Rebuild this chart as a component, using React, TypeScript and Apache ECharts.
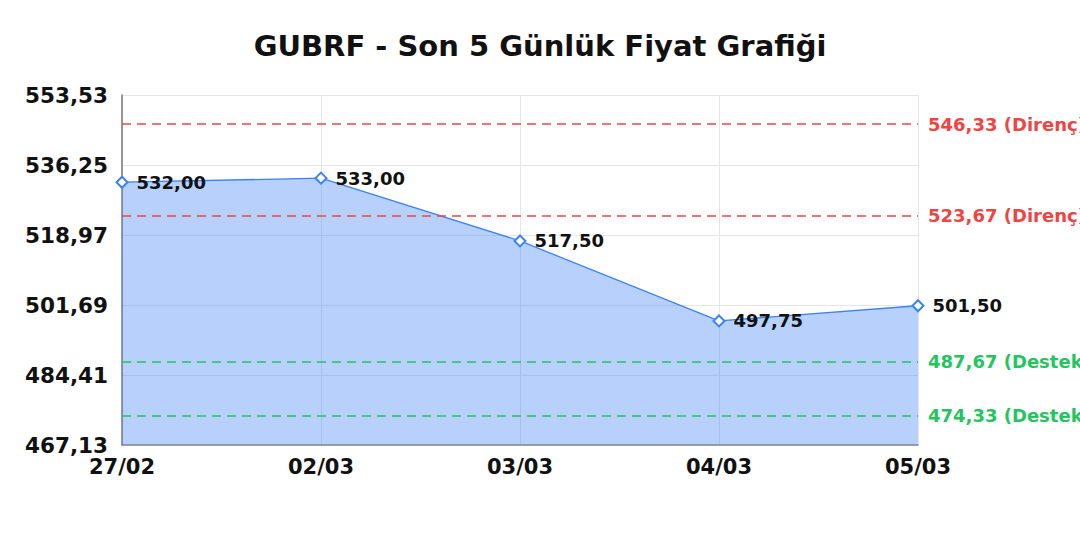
import { useEffect, useRef } from 'react'
import * as echarts from 'echarts'

const FONT = '"DejaVu Sans", Verdana, sans-serif'

const dates = ['27/02', '02/03', '03/03', '04/03', '05/03']
const prices = [532.0, 533.0, 517.5, 497.75, 501.5]

const yMin = 467.13
const yMax = 553.53
const yStep = 17.28

const resistance = [546.33, 523.67]
const support = [487.67, 474.33]

const fmt = (v: number) => v.toFixed(2).replace('.', ',')

export default function App() {
  const ref = useRef<HTMLDivElement>(null)

  useEffect(() => {
    document.body.style.margin = '0'
    if (!ref.current) return
    const chart = echarts.init(ref.current, undefined, { renderer: 'svg' })

    const level = (v: number, kind: string, color: string) => ({
      yAxis: v,
      lineStyle: { color, type: [9, 6], width: 1.5 },
      label: {
        show: true,
        position: 'end',
        distance: 10,
        color,
        fontFamily: FONT,
        fontWeight: 'bold',
        fontSize: 18,
        formatter: `${fmt(v)} (${kind})`,
      },
    })

    chart.setOption({
      animation: false,
      title: {
        text: 'GUBRF - Son 5 Günlük Fiyat Grafiği',
        left: 'center',
        top: 26,
        textStyle: { fontFamily: FONT, fontWeight: 'bold', fontSize: 29, color: '#111' },
      },
      grid: { left: 122, right: 162, top: 95, bottom: 95 },
      xAxis: {
        type: 'category',
        data: dates,
        boundaryGap: false,
        axisLine: { lineStyle: { color: '#888', width: 1.5 } },
        axisTick: { show: false },
        axisLabel: { fontFamily: FONT, fontWeight: 'bold', fontSize: 21, color: '#111', margin: 11 },
        splitLine: { show: true, lineStyle: { color: '#e6e6e6' } },
      },
      yAxis: {
        type: 'value',
        min: yMin,
        max: yMax,
        interval: yStep,
        axisLine: { show: true, lineStyle: { color: '#777', width: 1.5 } },
        axisTick: { show: false },
        axisLabel: {
          fontFamily: FONT,
          fontWeight: 'bold',
          fontSize: 21.5,
          color: '#111',
          margin: 14,
          formatter: (v: number) => fmt(v),
        },
        splitLine: { show: true, lineStyle: { color: '#e6e6e6' } },
      },
      series: [
        {
          type: 'line',
          data: prices,
          symbol: 'diamond',
          symbolSize: 11,
          itemStyle: { color: '#fff', borderColor: '#3b82f6', borderWidth: 2 },
          lineStyle: { color: '#3b82f6', width: 1.3 },
          areaStyle: { color: '#3b82f6', opacity: 0.37 },
          label: {
            show: true,
            position: 'right',
            distance: 8,
            color: '#111',
            fontFamily: FONT,
            fontWeight: 'bold',
            fontSize: 18,
            formatter: (p: any) => fmt(p.value),
          },
          markLine: {
            silent: true,
            symbol: 'none',
            data: [
              ...resistance.map((v) => level(v, 'Direnç', '#ef4444')),
              ...support.map((v) => level(v, 'Destek', '#22c55e')),
            ],
          },
        },
      ],
    })

    return () => chart.dispose()
  }, [])

  return <div ref={ref} style={{ width: 1080, height: 540 }} />
}
